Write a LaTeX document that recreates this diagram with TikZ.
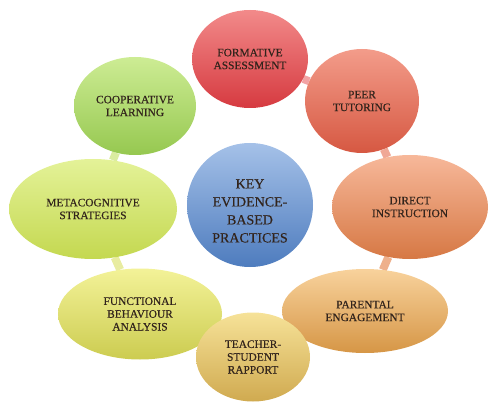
\documentclass[tikz,border=0pt]{standalone}
\usepackage{fontspec}
\setmainfont{Liberation Serif}
\newfontfamily\bubblefont{Liberation Serif}[FakeBold=0.4]
\usetikzlibrary{shapes.geometric,backgrounds}

\definecolor{ink}{RGB}{50,36,28}

\begin{document}
\begin{tikzpicture}[
x=1pt, y=-1pt,
bubble/.style={ellipse, inner sep=0pt, align=center, text=ink, font=\bubblefont\fontsize{11.4}{12.8}\selectfont},
link/.style={line width=8pt}
]
\useasboundingbox (0,0) rectangle (500,414);
% ring of practices
\node[bubble, minimum width=122pt, minimum height=98pt, top color={rgb,255:red,205;green,236;blue,148}, bottom color={rgb,255:red,150;green,200;blue,80}] (coop) at (135,106) {COOPERATIVE\\LEARNING};
\node[bubble, minimum width=116pt, minimum height=98pt, top color={rgb,255:red,242;green,138;blue,138}, bottom color={rgb,255:red,214;green,58;blue,64}] (form) at (250,59) {FORMATIVE\\ASSESSMENT};
\node[bubble, minimum width=114pt, minimum height=104pt, top color={rgb,255:red,243;green,156;blue,138}, bottom color={rgb,255:red,214;green,88;blue,66}] (peer) at (362,101) {PEER\\TUTORING};
\node[bubble, minimum width=156pt, minimum height=104pt, top color={rgb,255:red,247;green,184;blue,154}, bottom color={rgb,255:red,214;green,120;blue,68}] (direct) at (410,207) {DIRECT\\INSTRUCTION};
\node[bubble, minimum width=166pt, minimum height=84pt, top color={rgb,255:red,248;green,210;blue,156}, bottom color={rgb,255:red,214;green,150;blue,70}] (parent) at (365,311) {PARENTAL\\ENGAGEMENT};
\node[bubble, minimum width=164pt, minimum height=91pt, top color={rgb,255:red,243;green,242;blue,152}, bottom color={rgb,255:red,204;green,204;blue,80}] (func) at (140,314) {FUNCTIONAL\\BEHAVIOUR\\ANALYSIS};
\node[bubble, minimum width=114pt, minimum height=89pt, top color={rgb,255:red,246;green,226;blue,152}, bottom color={rgb,255:red,208;green,170;blue,80}] (teach) at (253,357) {TEACHER-\\STUDENT\\RAPPORT};
\node[bubble, minimum width=168pt, minimum height=100pt, top color={rgb,255:red,228;green,242;blue,152}, bottom color={rgb,255:red,196;green,216;blue,80}] (meta) at (93,209) {METACOGNITIVE\\STRATEGIES};
% centre
\node[bubble, minimum width=126pt, minimum height=124pt, top color={rgb,255:red,165;green,193;blue,232}, bottom color={rgb,255:red,78;green,124;blue,190}, font=\bubblefont\fontsize{14}{18}\selectfont] (key) at (250,205) {\rule{0pt}{21pt}KEY\\EVIDENCE-\\BASED\\PRACTICES};
\begin{scope}[on background layer]
\draw[link, color={rgb,255:red,242;green,162;blue,164}] (form)--(peer);
\draw[link, color={rgb,255:red,240;green,168;blue,150}] (peer)--(direct);
\draw[link, color={rgb,255:red,238;green,176;blue,140}] (direct)--(parent);
\draw[link, color={rgb,255:red,232;green,236;blue,160}] (func)--(meta);
\draw[link, color={rgb,255:red,218;green,236;blue,160}] (meta)--(coop);
\end{scope}
\end{tikzpicture}
\end{document}
